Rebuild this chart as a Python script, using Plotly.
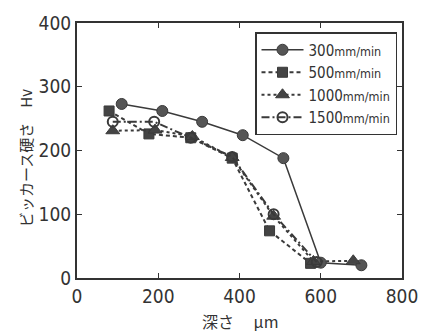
import plotly.graph_objects as go

x300 = [110, 210, 308, 408, 508, 600, 700]
y300 = [273, 262, 245, 224, 188, 24, 20]
x500 = [79, 177, 280, 382, 474, 575]
y500 = [262, 226, 220, 188, 74, 23]
x1000 = [88, 192, 284, 382, 484, 582, 680]
y1000 = [231, 232, 222, 189, 97, 26, 27]
x1500 = [88, 190, 280, 382, 484, 590]
y1500 = [245, 245, 220, 190, 100, 25]

names = ["300<span style='font-size:12.5px'>mm/min</span>",
         "500<span style='font-size:12.5px'>mm/min</span>",
         "1000<span style='font-size:12.5px'>mm/min</span>",
         "1500<span style='font-size:12.5px'>mm/min</span>"]

C = "#3a3a3a"
fig = go.Figure()
fig.add_trace(go.Scatter(x=x300, y=y300, name=names[0], mode="lines+markers",
                         line=dict(color=C, width=1.5, dash="solid"),
                         marker=dict(symbol="circle", size=11, color="#555", line=dict(color=C, width=1))))
fig.add_trace(go.Scatter(x=x500, y=y500, name=names[1], mode="lines+markers",
                         line=dict(color=C, width=2, dash="4px,3px"),
                         marker=dict(symbol="square", size=10, color="#444", line=dict(color=C, width=1))))
fig.add_trace(go.Scatter(x=x1000, y=y1000, name=names[2], mode="lines+markers",
                         line=dict(color=C, width=2, dash="dot"),
                         marker=dict(symbol="triangle-up", size=12, color="#444", line=dict(color=C, width=1))))
fig.add_trace(go.Scatter(x=x1500, y=y1500, name=names[3], mode="lines+markers",
                         line=dict(color=C, width=2, dash="8px,3px,2px,3px"),
                         marker=dict(symbol="circle-open", size=10, color=C, line=dict(color=C, width=2))))

# page body has 8px margin; compute in page pixels then shift
O = 8
W, H = 426 - O, 335 - O
PL, PR, PT, PB = 77, 402, 23, 278          # plot area in page pixels
L, T = PL - O, PT - O
R, B = W - (PR - O), H - (PB - O)
pw, ph = PR - PL, PB - PT

def px(xp):
    return (xp - PL) / pw

def py(yp):
    return (PB - yp) / ph

font = "DejaVu Sans Condensed, Liberation Sans Narrow, Arial Narrow, sans-serif"
jp = "Noto Sans CJK JP"
fig.update_layout(
    width=W, height=H,
    margin=dict(l=L, r=R, t=T, b=B, autoexpand=False),
    paper_bgcolor="white", plot_bgcolor="white",
    font=dict(family=font, color="#333", size=19),
    showlegend=True,
    legend=dict(x=px(397), y=py(32), xanchor="right", yanchor="top",
                bgcolor="white", bordercolor="#333", borderwidth=1.5,
                font=dict(size=15, family=font, color="#333"),
                itemwidth=42, tracegroupgap=0),
    xaxis=dict(range=[0, 800], tickvals=[0, 200, 400, 600, 800], automargin=False,
               ticks="inside", ticklen=5, tickcolor="#333",
               showline=True, linecolor="#333", linewidth=2, mirror="ticks",
               showgrid=False, zeroline=False,
               tickfont=dict(size=19, family=font)),
    yaxis=dict(range=[0, 400], tickvals=[0, 100, 200, 300, 400], automargin=False,
               ticks="inside", ticklen=5, tickcolor="#333",
               showline=True, linecolor="#333", linewidth=2, mirror="ticks",
               showgrid=False, zeroline=False,
               tickfont=dict(size=19, family=font)),
    annotations=[
        dict(text="深さ　 μm", xref="paper", yref="paper",
             x=px(240), y=py(321), xanchor="center", yanchor="middle",
             showarrow=False, font=dict(size=16, family=jp, color="#333")),
        dict(text="ビッカース硬さ　Hv", xref="paper", yref="paper", textangle=-90,
             x=px(25), y=py(158), xanchor="center", yanchor="middle",
             showarrow=False, font=dict(size=15, family=jp, color="#333")),
    ],
)

fig.write_html("out.html")
